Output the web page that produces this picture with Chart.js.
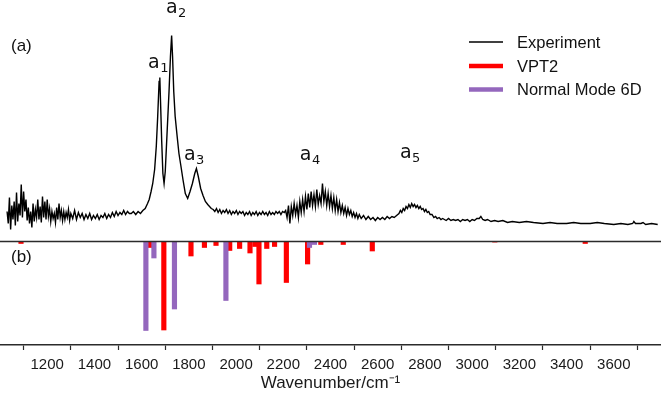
<!DOCTYPE html>
<html>
<head>
<title>Spectrum vs VPT2 / Normal Mode 6D</title>
<script src="https://cdn.jsdelivr.net/npm/chart.js"></script>
<style>
html, body { margin: 0; padding: 0; background: #fff; }
#wrap { width: 661px; height: 395px; }
</style>
</head>
<body>
<div id="wrap"><canvas id="spec" width="661" height="395"></canvas></div>
<script>
// experimental spectrum (intensity in arbitrary units, offset above the zero line)
const expWavenumber = [
  1030, 1035, 1040, 1045, 1050, 1055, 1060, 1065, 1070, 1075,
  1080, 1085, 1090, 1095, 1100, 1105, 1110, 1115, 1120, 1125,
  1130, 1135, 1140, 1145, 1150, 1155, 1160, 1165, 1170, 1175,
  1180, 1185, 1190, 1195, 1200, 1205, 1210, 1215, 1220, 1225,
  1230, 1235, 1240, 1245, 1250, 1255, 1260, 1265, 1270, 1275,
  1280, 1285, 1290, 1295, 1300, 1308, 1316, 1324, 1332, 1340,
  1348, 1356, 1364, 1372, 1380, 1388, 1396, 1404, 1412, 1420,
  1428, 1436, 1444, 1452, 1460, 1468, 1476, 1484, 1492, 1500,
  1508, 1516, 1524, 1532, 1540, 1548, 1556, 1565, 1575, 1585,
  1595, 1605, 1615, 1625, 1632, 1640, 1647, 1655, 1662, 1668,
  1674, 1677, 1680, 1685, 1690, 1695, 1700, 1708, 1716, 1722,
  1727, 1731, 1736, 1742, 1750, 1758, 1766, 1775, 1785, 1795,
  1805, 1815, 1825, 1832, 1840, 1850, 1860, 1870, 1880, 1895,
  1903, 1910, 1917, 1924, 1931, 1938, 1945, 1952, 1959, 1966,
  1973, 1980, 1987, 1994, 2001, 2008, 2015, 2022, 2029, 2036,
  2043, 2050, 2057, 2064, 2071, 2078, 2085, 2092, 2099, 2106,
  2113, 2120, 2127, 2134, 2141, 2148, 2155, 2162, 2169, 2176,
  2183, 2190, 2197, 2204, 2210, 2216, 2222, 2228, 2234, 2240,
  2246, 2252, 2258, 2264, 2270, 2276, 2282, 2288, 2294, 2300,
  2306, 2312, 2318, 2324, 2330, 2336, 2342, 2348, 2354, 2360,
  2366, 2372, 2378, 2384, 2390, 2396, 2402, 2408, 2414, 2420,
  2426, 2432, 2438, 2444, 2450, 2456, 2462, 2468, 2474, 2480,
  2486, 2492, 2498, 2504, 2510, 2516, 2522, 2530, 2540, 2550,
  2560, 2570, 2580, 2590, 2600, 2610, 2620, 2630, 2640, 2650,
  2660, 2670, 2680, 2690, 2696, 2702, 2708, 2714, 2720, 2726,
  2732, 2738, 2744, 2750, 2756, 2762, 2768, 2774, 2780, 2786,
  2792, 2798, 2804, 2810, 2816, 2822, 2830, 2838, 2845, 2852,
  2860, 2868, 2875, 2890, 2900, 2910, 2920, 2930, 2940, 2950,
  2960, 2970, 2980, 2990, 3000, 3010, 3020, 3030, 3037, 3045,
  3055, 3065, 3080, 3095, 3110, 3130, 3150, 3170, 3200, 3230,
  3260, 3300, 3330, 3360, 3400, 3430, 3460, 3500, 3530, 3560,
  3600, 3630, 3660, 3680, 3685, 3692, 3715, 3724, 3735, 3760, 3786
];
const expIntensity = [
  30, 18, 44, 12, 36, 22, 40, 16, 49, 20,
  38, 26, 57, 24, 50, 30, 42, 21, 34, 18,
  30, 14, 38, 20, 32, 24, 42, 22, 35, 19,
  45, 24, 40, 22, 42, 25, 33, 20, 30, 23,
  28, 19, 34, 22, 38, 24, 31, 21, 30, 22,
  29, 24, 32, 21, 28, 23, 31, 22, 29, 24,
  28, 22, 27, 23, 28, 22, 26, 23, 27, 22,
  26, 24, 28, 23, 27, 24, 29, 25, 30, 26,
  29, 27, 31, 27, 30, 28, 28, 30, 27, 30,
  28, 31, 33, 38, 42, 50, 58, 72, 95, 125,
  160, 164, 140, 100, 68, 58, 70, 110, 150, 185,
  206, 185, 150, 125, 106, 88, 76, 62, 48, 43,
  50, 58, 68, 73, 65, 53, 46, 40, 37, 33,
  32, 30, 33, 29, 32, 28, 31, 29, 32, 28,
  31, 27, 30, 28, 31, 27, 30, 28, 30, 26,
  29, 27, 30, 26, 29, 27, 30, 26, 29, 27,
  30, 27, 29, 26, 30, 27, 29, 27, 30, 28,
  30, 27, 30, 29, 31, 24, 36, 18, 35, 26,
  38, 27, 36, 24, 40, 29, 42, 30, 45, 32,
  48, 34, 50, 36, 47, 35, 52, 37, 46, 38,
  58, 40, 50, 36, 48, 35, 46, 33, 44, 31,
  42, 30, 39, 29, 36, 28, 34, 26, 33, 27,
  31, 25, 29, 24, 28, 23, 27, 23, 26, 22,
  25, 22, 24, 21, 24, 22, 24, 22, 25, 23,
  25, 24, 26, 28, 31, 29, 33, 31, 35, 33,
  37, 34, 38, 35, 37, 34, 36, 33, 35, 32,
  33, 30, 32, 29, 30, 27, 27, 24, 25, 23,
  24, 22, 23, 21, 23, 21, 22, 21, 22, 20,
  22, 21, 22, 20, 22, 21, 23, 23, 25, 22,
  21, 22, 20, 21, 20, 21, 19, 20, 19, 20,
  19, 18, 19, 18, 18, 19, 18, 18, 19, 18,
  17, 18, 17, 18, 20, 18, 18, 19, 17, 18, 17
];

// computed stick spectra (drawn downwards)
const vpt2Wavenumber = [1089, 1635, 1694, 1809, 1866, 1915, 1973, 2015, 2059, 2080, 2097, 2130, 2163, 2213, 2303, 2359, 2454, 2577, 3096, 3479];
const vpt2Intensity = [-2, -6, -88.5, -14.5, -6, -4, -9, -7, -11.5, -5, -42.5, -7, -5, -41, -22.5, -3, -3, -9.5, -0.6, -2];
const nm6dWavenumber = [1618, 1652, 1739, 1957, 2311, 2332];
const nm6dIntensity = [-89, -16.5, -67.5, -59, -6, -3];

const xTicks = [1200, 1400, 1600, 1800, 2000, 2200, 2400, 2600, 2800, 3000, 3200, 3400, 3600];

const peakLabels = [
  { sub: '1', x: 1627, y: 173.5 },
  { sub: '2', x: 1703, y: 228.5 },
  { sub: '3', x: 1779, y: 81.5 },
  { sub: '4', x: 2270, y: 81.5 },
  { sub: '5', x: 2694, y: 83.5 }
];

const toXY = (xs, ys) => xs.map((v, i) => ({ x: v, y: ys[i] }));

const overlay = {
  id: 'overlay',
  afterDatasetsDraw(chart) {
    const { ctx, chartArea, scales: { x, y } } = chart;
    ctx.save();
    // zero line between the two panels
    const y0 = y.getPixelForValue(0);
    ctx.strokeStyle = '#2b2b2b';
    ctx.lineWidth = 1.5;
    ctx.beginPath();
    ctx.moveTo(chartArea.left, y0);
    ctx.lineTo(chartArea.right, y0);
    ctx.stroke();

    // peak labels a1..a5
    ctx.fillStyle = '#111';
    ctx.textAlign = 'left';
    ctx.textBaseline = 'alphabetic';
    peakLabels.forEach(p => {
      const px = x.getPixelForValue(p.x);
      const py = y.getPixelForValue(p.y);
      ctx.font = '19px "DejaVu Sans"';
      ctx.fillText('a', px, py);
      const w = ctx.measureText('a').width;
      ctx.font = '13px "DejaVu Sans"';
      ctx.fillText(p.sub, px + w + 0.5, py + 4);
    });

    // panel labels
    ctx.font = '17px "Liberation Sans"';
    ctx.textBaseline = 'middle';
    ctx.fillText('(a)', 11, 46);
    ctx.fillText('(b)', 11, 257);

    // legend
    const rows = [42, 66, 89.5];
    chart.data.datasets.forEach((ds, i) => {
      const ry = rows[i];
      ctx.strokeStyle = ds.legendColor;
      ctx.lineWidth = ds.legendWidth;
      ctx.beginPath();
      ctx.moveTo(469, ry);
      ctx.lineTo(503, ry);
      ctx.stroke();
      ctx.fillStyle = '#111';
      ctx.font = '16.5px "Liberation Sans"';
      ctx.fillText(ds.label, 517, ry + 1);
    });
    ctx.restore();
  }
};

new Chart(document.getElementById('spec'), {
  type: 'bar',
  data: {
    datasets: [
      {
        type: 'line',
        label: 'Experiment',
        data: toXY(expWavenumber, expIntensity),
        borderColor: '#000',
        borderWidth: 1.4,
        pointRadius: 0,
        tension: 0,
        legendColor: '#000',
        legendWidth: 1.5,
        order: 0
      },
      {
        label: 'VPT2',
        data: toXY(vpt2Wavenumber, vpt2Intensity),
        backgroundColor: '#ff0000',
        barThickness: 4.5,
        grouped: false,
        legendColor: '#ff0000',
        legendWidth: 4.5,
        order: 2
      },
      {
        label: 'Normal Mode 6D',
        data: toXY(nm6dWavenumber, nm6dIntensity),
        backgroundColor: '#9467bd',
        barThickness: 4.5,
        grouped: false,
        legendColor: '#9467bd',
        legendWidth: 4.5,
        order: 1
      }
    ]
  },
  options: {
    responsive: false,
    animation: false,
    layout: { padding: 0 },
    plugins: { legend: { display: false }, tooltip: { enabled: false } },
    scales: {
      x: {
        type: 'linear',
        min: 1000,
        max: 3800,
        offset: false,
        afterBuildTicks: s => { s.ticks = xTicks.map(v => ({ value: v })); },
        afterFit: s => { s.height = 50; },
        border: { display: true, color: '#2b2b2b', width: 1.5 },
        grid: { drawOnChartArea: false, drawTicks: true, tickLength: 5, tickColor: '#2b2b2b', tickWidth: 1.2 },
        ticks: {
          color: '#1a1a1a',
          font: { family: 'Liberation Sans', size: 15 },
          padding: 6,
          maxRotation: 0,
          autoSkip: false,
          callback: v => String(v)
        },
        title: {
          display: true,
          text: 'Wavenumber/cm⁻¹',
          color: '#1a1a1a',
          font: { family: 'Liberation Sans', size: 17 },
          padding: { top: 0, bottom: 1 }
        }
      },
      y: { display: false, min: -103.5, max: 241.5 }
    }
  },
  plugins: [overlay]
});
</script>
</body>
</html>
